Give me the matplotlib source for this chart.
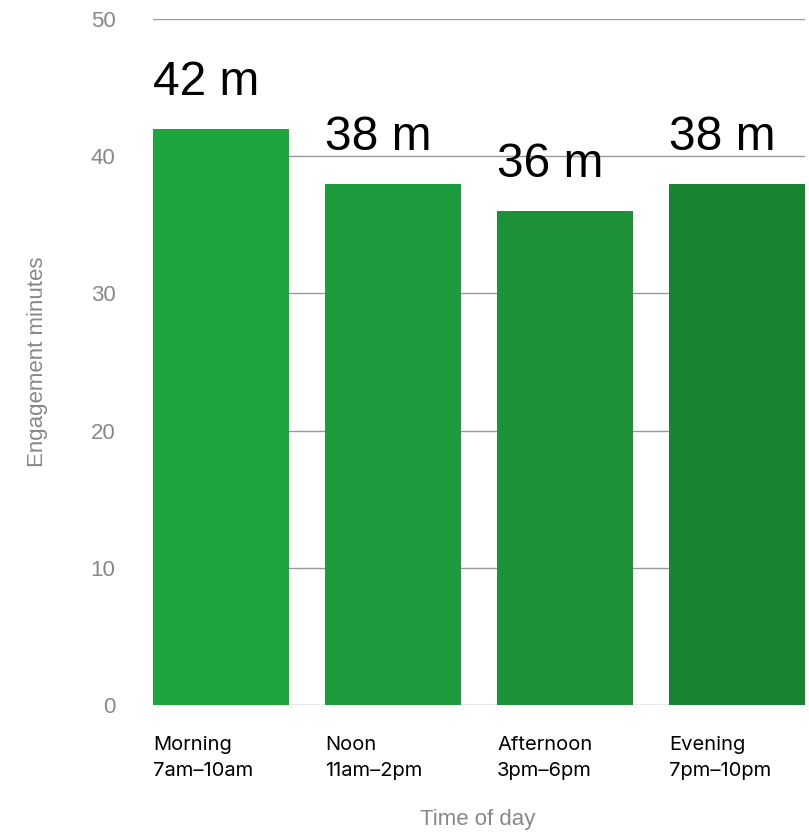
import matplotlib
matplotlib.use("Agg")
import matplotlib.pyplot as plt

# --- datos ---
periods = ["Morning", "Noon", "Afternoon", "Evening"]
hours = ["7am\u201310am", "11am\u20132pm", "3pm\u20136pm", "7pm\u201310pm"]
minutes = [42, 38, 36, 38]
colors = ["#1fa540", "#1e9b3c", "#1e9038", "#1a8331"]

plt.rcParams['font.family'] = ['Liberation Sans', 'DejaVu Sans']

fig = plt.figure(figsize=(8.09, 8.34), dpi=100)
ax = fig.add_axes([153 / 809, 1 - 705 / 834, 652 / 809, 686 / 834])

pos = list(range(len(periods)))
width = 0.79
ax.bar(pos, minutes, width=width, align='edge', color=colors, zorder=2)

# etiquetas de valor encima de cada barra
for x, v in zip(pos, minutes):
    ax.text(x, v + 2.45, f"{v} m", ha='left', va='baseline',
            fontsize=34.5, color='black', zorder=3)

ax.set_xlim(0, len(periods) - 1 + width)
ax.set_ylim(0, 50)
ax.set_yticks([0, 10, 20, 30, 40, 50])
ax.grid(True, axis='y', color='#999999', linewidth=1, zorder=0)
ax.set_axisbelow(True)

for s in ax.spines.values():
    s.set_visible(False)

ax.tick_params(axis='y', length=0, pad=27, labelsize=16, labelcolor='#888888')
ax.set_xticks(pos)
ax.set_xticklabels([f"{p}\n{h}" for p, h in zip(periods, hours)],
                   ha='left', fontsize=14.5, family=['Inter', 'DejaVu Sans'],
                   linespacing=1.6)
ax.tick_params(axis='x', length=0, pad=22)

ax.set_ylabel("Engagement minutes", fontsize=16, color='#888888')
ax.yaxis.set_label_coords(-0.161, 0.5)
ax.set_xlabel("Time of day", fontsize=16, color='#888888')
ax.xaxis.set_label_coords(0.498, -0.152)

plt.savefig('out.png', dpi=100)
